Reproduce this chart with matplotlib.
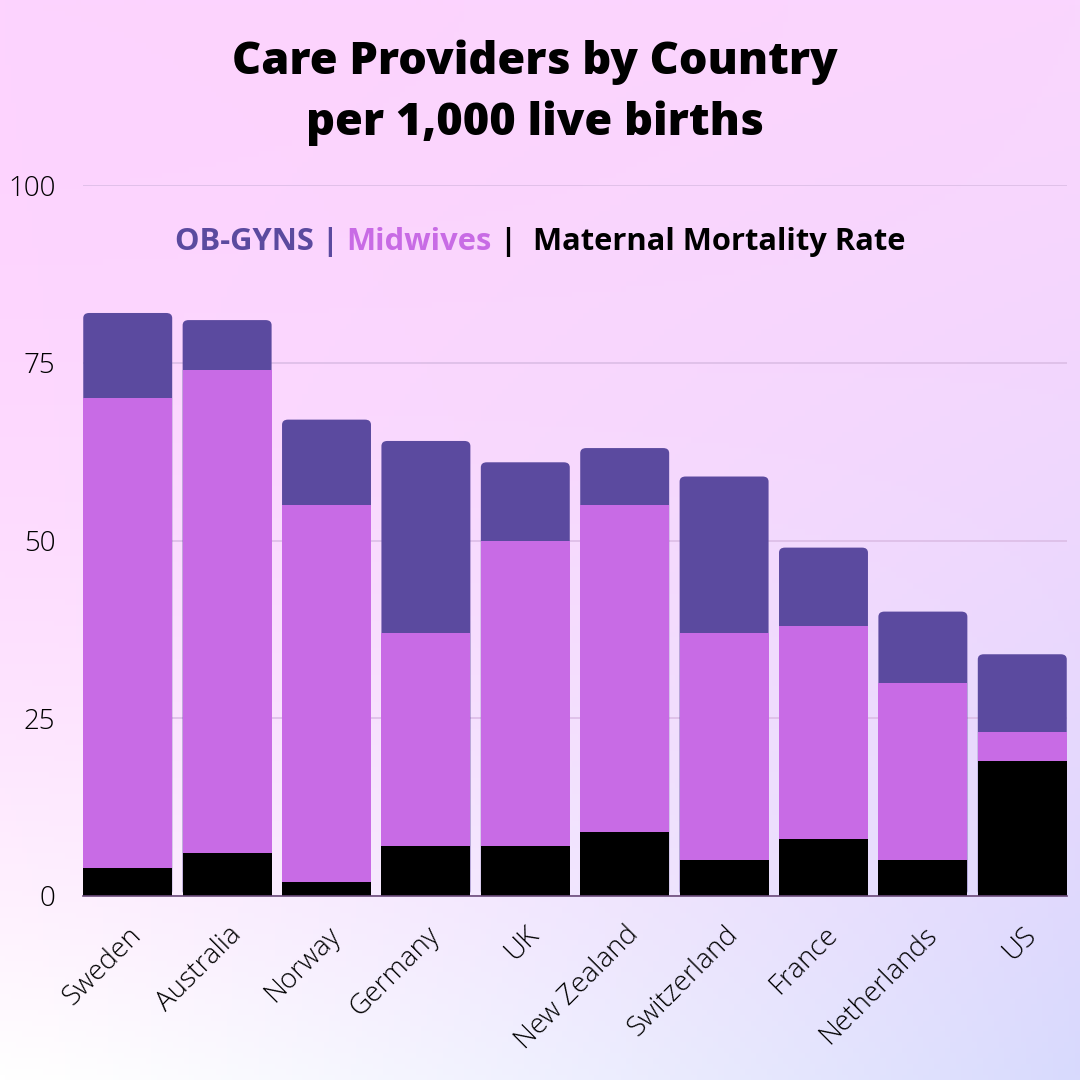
import numpy as np
import matplotlib
matplotlib.use("Agg")
import matplotlib.pyplot as plt
from matplotlib.patches import FancyBboxPatch
from matplotlib.offsetbox import TextArea, HPacker, AnchoredOffsetbox

countries = ["Sweden", "Australia", "Norway", "Germany", "UK",
             "New Zealand", "Switzerland", "France", "Netherlands", "US"]
# cumulative heights
mortality = [4, 6, 2, 7, 7, 9, 5, 8, 5, 19]
midwives_top = [70, 74, 55, 37, 50, 55, 37, 38, 30, 23]
obgyn_top = [82, 81, 67, 64, 61, 63, 59, 49, 40, 34]
yticks = [0, 25, 50, 75, 100]

c_obgyn = "#5b4a9f"
c_mid = "#c86be5"
c_grid = "#dcbde6"

plt.rcParams['font.family'] = ['Open Sans', 'DejaVu Sans']

fig = plt.figure(figsize=(10.8, 10.8), dpi=100)

# background gradient
bg = fig.add_axes([0, 0, 1, 1], zorder=-10)
tl = np.array([253, 211, 254]) / 255
tr = np.array([250, 214, 254]) / 255
bl = np.array([255, 255, 255]) / 255
br = np.array([216, 218, 253]) / 255
n = 200
u = np.linspace(0, 1, n)[None, :, None]
v = np.linspace(0, 1, n)[:, None, None]
vl = v ** 2.2
vr = v ** 1.4
left = (1 - vl) * tl + vl * bl
right = (1 - vr) * tr + vr * br
img = (1 - u ** 1.3) * left + u ** 1.3 * right
bg.imshow(img, extent=[0, 1, 0, 1], aspect='auto', origin='upper')
bg.axis('off')

ax = fig.add_axes([83 / 1080, 1 - 896 / 1080, (1067 - 83) / 1080, (896 - 185) / 1080])
ax.patch.set_alpha(0)

x = np.arange(len(countries))
w = 0.895

# top (OB-GYN) bars with rounded top, drawn full height first
bars = ax.bar(x, obgyn_top, width=w, color=c_obgyn, zorder=2)
for r in bars:
    r.set_visible(False)
    p = FancyBboxPatch(r.get_xy(), r.get_width(), r.get_height(),
                       boxstyle="round,pad=0,rounding_size=0.06",
                       mutation_aspect=12, facecolor=c_obgyn,
                       edgecolor='none', zorder=2)
    ax.add_patch(p)
ax.bar(x, np.array(midwives_top) - np.array(mortality), bottom=mortality,
       width=w, color=c_mid, zorder=3)
ax.bar(x, mortality, width=w, color="black", zorder=4)

ax.set_xlim(-0.45, len(countries) - 0.55)
ax.set_ylim(0, 100)
ax.set_yticks(yticks)
ax.set_yticklabels([str(t) for t in yticks], fontsize=20, fontweight='light')
ax.yaxis.grid(True, color=c_grid, linewidth=1.2, zorder=0)
ax.set_axisbelow(True)
ax.tick_params(axis='y', length=0, pad=20)
ax.tick_params(axis='x', length=0, pad=18)
ax.set_xticks(x)
ax.set_xticklabels(countries, rotation=45, ha='right', rotation_mode='anchor',
                   fontsize=20, fontweight='light')
for s in ['top', 'right', 'left']:
    ax.spines[s].set_visible(False)
ax.spines['bottom'].set_color('#6a4a7a')
ax.spines['bottom'].set_linewidth(1.2)
ax.spines['bottom'].set_zorder(5)

fig.text(0.495, 1 - 93 / 1080, "Care Providers by Country\nper 1,000 live births",
         ha='center', va='center', fontsize=32.5, fontweight='heavy',
         linespacing=1.45)

# colour-coded legend line
parts = [("OB-GYNS | ", c_obgyn), ("Midwives", c_mid), (" |  ", "black"),
         ("Maternal Mortality Rate", "black")]
areas = [TextArea(t, textprops=dict(color=c, fontsize=22.2, fontweight='bold'))
         for t, c in parts]
box = HPacker(children=areas, align="baseline", pad=0, sep=0)
anch = AnchoredOffsetbox(loc='center', child=box, frameon=False,
                         bbox_to_anchor=(540 / 1080, 1 - 242 / 1080),
                         bbox_transform=fig.transFigure, borderpad=0)
fig.add_artist(anch)

fig.savefig("out.png", dpi=100)
